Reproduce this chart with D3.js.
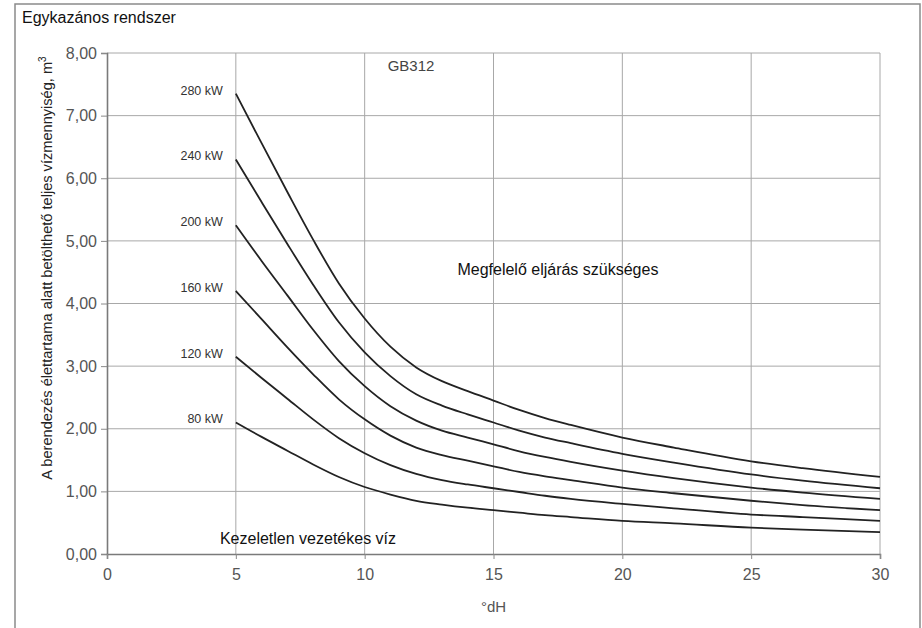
<!DOCTYPE html>
<html>
<head>
<meta charset="utf-8">
<script src="https://cdn.jsdelivr.net/npm/d3@7"></script>
<style>
  body { margin: 0; background: #fff; }
  text { font-family: "Liberation Sans", Arial, sans-serif; }
</style>
</head>
<body>
<script>
// water hardness (°dH) sample points
var hardness = [5, 6, 7, 8, 9, 10, 11, 12, 13, 14, 15, 16, 17, 18, 20, 22, 25, 27, 30];

// total fill water volume over the lifetime, m3, one array per boiler output
var kw280 = [7.35, 6.56, 5.78, 5.02, 4.32, 3.76, 3.31, 2.98, 2.76, 2.60, 2.45, 2.30, 2.17, 2.06, 1.86, 1.70, 1.48, 1.37, 1.23];
var kw240 = [6.30, 5.62, 4.95, 4.30, 3.70, 3.22, 2.84, 2.55, 2.37, 2.23, 2.10, 1.97, 1.86, 1.77, 1.60, 1.46, 1.27, 1.17, 1.05];
var kw200 = [5.25, 4.68, 4.13, 3.58, 3.08, 2.68, 2.36, 2.13, 1.97, 1.86, 1.75, 1.64, 1.55, 1.47, 1.33, 1.21, 1.06, 0.98, 0.88];
var kw160 = [4.20, 3.75, 3.30, 2.87, 2.47, 2.15, 1.89, 1.70, 1.58, 1.49, 1.40, 1.31, 1.24, 1.18, 1.06, 0.97, 0.85, 0.78, 0.70];
var kw120 = [3.15, 2.81, 2.48, 2.15, 1.85, 1.61, 1.42, 1.28, 1.18, 1.11, 1.05, 0.99, 0.93, 0.88, 0.80, 0.73, 0.63, 0.59, 0.53];
var kw80  = [2.10, 1.87, 1.65, 1.43, 1.23, 1.07, 0.95, 0.85, 0.79, 0.74, 0.70, 0.66, 0.62, 0.59, 0.53, 0.49, 0.42, 0.39, 0.35];

var seriesNames = ["280 kW", "240 kW", "200 kW", "160 kW", "120 kW", "80 kW"];
var seriesValues = [kw280, kw240, kw200, kw160, kw120, kw80];

var xTicks = [0, 5, 10, 15, 20, 25, 30];
var yTicks = [0, 1, 2, 3, 4, 5, 6, 7, 8];

var width = 922, height = 628;
var margin = {left: 107, right: 42, top: 53, bottom: 74};

var svg = d3.select('body').append('svg')
    .attr('width', width)
    .attr('height', height);

// outer frame
svg.append('rect')
    .attr('x', 15).attr('y', 4)
    .attr('width', 905).attr('height', 640)
    .attr('fill', 'none')
    .attr('stroke', '#8a8a8a')
    .attr('stroke-width', 1.5);

svg.append('text')
    .attr('x', 22).attr('y', 23)
    .attr('font-size', 16)
    .attr('fill', '#111')
    .text('Egykazános rendszer');

var x = d3.scaleLinear().domain([0, 30]).range([margin.left, width - margin.right]);
var y = d3.scaleLinear().domain([0, 8]).range([height - margin.bottom, margin.top]);

// gridlines
svg.append('g').selectAll('line')
    .data(xTicks.slice(1))
    .enter().append('line')
    .attr('x1', function(d) { return x(d); })
    .attr('x2', function(d) { return x(d); })
    .attr('y1', y(0)).attr('y2', y(8))
    .attr('stroke', '#a8a8a8')
    .attr('stroke-width', 1);

svg.append('g').selectAll('line')
    .data(yTicks.slice(1))
    .enter().append('line')
    .attr('x1', x(0)).attr('x2', x(30))
    .attr('y1', function(d) { return y(d); })
    .attr('y2', function(d) { return y(d); })
    .attr('stroke', '#a8a8a8')
    .attr('stroke-width', 1);

// axes
var yAxis = d3.axisLeft(y)
    .tickValues(yTicks)
    .tickSize(6)
    .tickPadding(4)
    .tickFormat(function(d) { return d3.format('.2f')(d).replace('.', ','); });

var xAxis = d3.axisBottom(x)
    .tickValues(xTicks)
    .tickSize(5)
    .tickPadding(10);

var gy = svg.append('g')
    .attr('transform', 'translate(' + margin.left + ',0)')
    .call(yAxis);
var gx = svg.append('g')
    .attr('transform', 'translate(0,' + y(0) + ')')
    .call(xAxis);

[gx, gy].forEach(function(g) {
    g.select('.domain').attr('stroke', '#7a7a7a').attr('stroke-width', 1.6);
    g.selectAll('.tick line').attr('stroke', '#8a8a8a');
    g.selectAll('.tick text')
        .attr('fill', '#555')
        .attr('font-size', 16)
        .attr('font-family', '"Liberation Sans", Arial, sans-serif');
});

// curves
var line = d3.line()
    .x(function(d, i) { return x(hardness[i]); })
    .y(function(d) { return y(d); })
    .curve(d3.curveMonotoneX);

svg.append('g').selectAll('path')
    .data(seriesValues)
    .enter().append('path')
    .attr('fill', 'none')
    .attr('stroke', '#222')
    .attr('stroke-width', 1.8)
    .attr('d', line);

svg.append('g').selectAll('text')
    .data(seriesNames)
    .enter().append('text')
    .attr('x', x(5) - 13)
    .attr('y', function(d, i) { return y(seriesValues[i][0]) + 1; })
    .attr('text-anchor', 'end')
    .attr('font-size', 12.5)
    .attr('fill', '#333')
    .text(function(d) { return d; });

svg.append('text')
    .attr('x', x(11.8)).attr('y', y(7.72))
    .attr('text-anchor', 'middle')
    .attr('font-size', 15)
    .attr('fill', '#444')
    .text('GB312');

svg.append('text')
    .attr('x', x(17.5)).attr('y', y(4.46))
    .attr('text-anchor', 'middle')
    .attr('font-size', 16)
    .attr('fill', '#111')
    .text('Megfelelő eljárás szükséges');

svg.append('text')
    .attr('x', x(7.8)).attr('y', y(0.16))
    .attr('text-anchor', 'middle')
    .attr('font-size', 16)
    .attr('fill', '#111')
    .text('Kezeletlen vezetékes víz');

// axis titles
svg.append('text')
    .attr('x', x(15)).attr('y', 612)
    .attr('text-anchor', 'middle')
    .attr('font-size', 15)
    .attr('fill', '#555')
    .text('°dH');

var yTitle = svg.append('text')
    .attr('transform', 'translate(52,' + 268 + ') rotate(-90)')
    .attr('text-anchor', 'middle')
    .attr('font-size', 14.6)
    .attr('fill', '#222');
yTitle.append('tspan').text('A berendezés élettartama alatt betölthető teljes vízmennyiség, m');
yTitle.append('tspan').attr('dy', -6).attr('font-size', 10).text('3');
</script>
</body>
</html>
